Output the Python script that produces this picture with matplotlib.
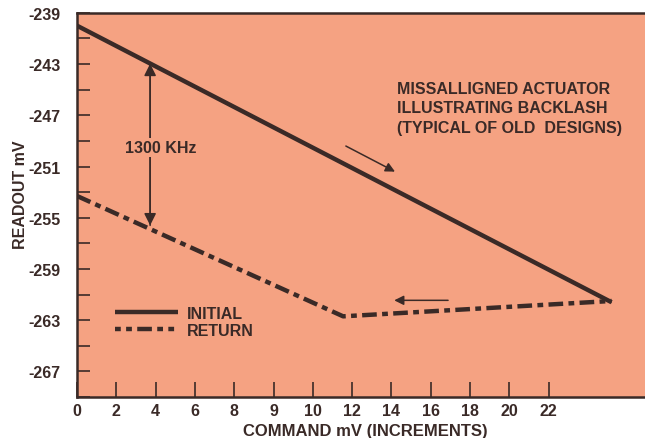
import matplotlib
matplotlib.use("Agg")
import matplotlib.pyplot as plt
import numpy as np

# tick labels along x (evenly spaced positions)
x_tick_labels = ["0", "2", "4", "6", "8", "9", "10", "12", "14", "16", "18", "20", "22"]
y_ticks = [-239, -243, -247, -251, -255, -259, -263, -267]

# series (x in tick-position units)
initial_x = [0.0, 13.6]
initial_y = [-240.0, -261.6]
return_x = [0.0, 6.77, 13.6]
return_y = [-253.3, -262.7, -261.5]

INK = "#3a2a27"
BG = "#f5a282"

plt.rcParams["font.family"] = ["Liberation Sans", "DejaVu Sans"]
plt.rcParams["font.weight"] = "bold"
plt.rcParams["axes.unicode_minus"] = False

fig = plt.figure(figsize=(6.45, 4.39), dpi=100)
ax = fig.add_axes([0.1194, 0.0934, 0.8806, 0.875])
ax.set_facecolor(BG)

ax.plot(initial_x, initial_y, color=INK, lw=3.2, solid_capstyle="butt")
ln, = ax.plot(return_x, return_y, color=INK, lw=3.2)
ln.set_dashes([3.3, 1.2, 1.3, 1.2])

ax.set_xlim(0, 14.45)
ax.set_ylim(-269, -239)

ax.set_xticks(np.arange(len(x_tick_labels)))
ax.set_xticklabels(x_tick_labels)
ax.set_yticks(y_ticks)
ax.set_yticks(np.arange(-269, -238, 2), minor=True)

ax.tick_params(axis="both", which="both", direction="in", color=INK, width=1.2,
               labelcolor=INK, labelsize=11.5)
ax.tick_params(axis="y", which="both", length=9, pad=12)
ax.tick_params(axis="x", which="both", length=11, pad=4)
ax.tick_params(axis="x", which="minor", length=0)

for s in ["left", "bottom", "top"]:
    ax.spines[s].set_color(INK)
    ax.spines[s].set_linewidth(1.8)
ax.spines["right"].set_visible(False)

ax.set_xlabel("COMMAND mV (INCREMENTS)", color=INK, fontsize=12, fontweight="bold")
ax.set_ylabel("READOUT mV", color=INK, fontsize=11.5, fontweight="bold")
ax.xaxis.set_label_coords((365 - 77) / 568, (398 - 431) / 384)
ax.yaxis.set_label_coords((20 - 77) / 568, (398 - 195) / 384)
ax.xaxis.label.set_va("center")
ax.yaxis.label.set_va("center")

# double-headed arrow
ax.annotate("", xy=(1.86, -242.97), xytext=(1.86, -255.6),
            arrowprops=dict(arrowstyle="-|>", color=INK, lw=1.1, mutation_scale=18, shrinkA=0, shrinkB=0))
ax.annotate("", xy=(1.86, -255.6), xytext=(1.86, -242.97),
            arrowprops=dict(arrowstyle="-|>", color=INK, lw=1.1, mutation_scale=18, shrinkA=0, shrinkB=0))
ax.text(2.14, -249.5, "1300 KHz", color=INK, fontsize=11.5, fontweight="bold",
        ha="center", va="center", bbox=dict(facecolor=BG, edgecolor="none", pad=1.5))

# direction arrows
ax.annotate("", xy=(8.09, -251.4), xytext=(6.84, -249.4),
            arrowprops=dict(arrowstyle="-|>", color=INK, lw=1.1, mutation_scale=14, shrinkA=0, shrinkB=0))
ax.annotate("", xy=(8.07, -261.45), xytext=(9.44, -261.45),
            arrowprops=dict(arrowstyle="-|>", color=INK, lw=1.1, mutation_scale=14, shrinkA=0, shrinkB=0))

ax.text(8.14, -244.3, "MISSALLIGNED ACTUATOR\nILLUSTRATING BACKLASH\n(TYPICAL OF OLD  DESIGNS)",
        color=INK, fontsize=11.5, fontweight="bold", ha="left", va="top", linespacing=1.38)

# legend drawn manually
lx = [0.97, 2.57]
ax.plot(lx, [-262.4, -262.4], color=INK, lw=3.2, solid_capstyle="butt")
lg, = ax.plot(lx, [-263.7, -263.7], color=INK, lw=3.2)
lg.set_dashes([1.3, 1.2, 1.3, 1.2, 3.3, 1.2])
ax.text(2.8, -262.45, "INITIAL", color=INK, fontsize=11.5, fontweight="bold", va="center")
ax.text(2.8, -263.8, "RETURN", color=INK, fontsize=11.5, fontweight="bold", va="center")

fig.savefig("out.png", dpi=100, facecolor="white")
